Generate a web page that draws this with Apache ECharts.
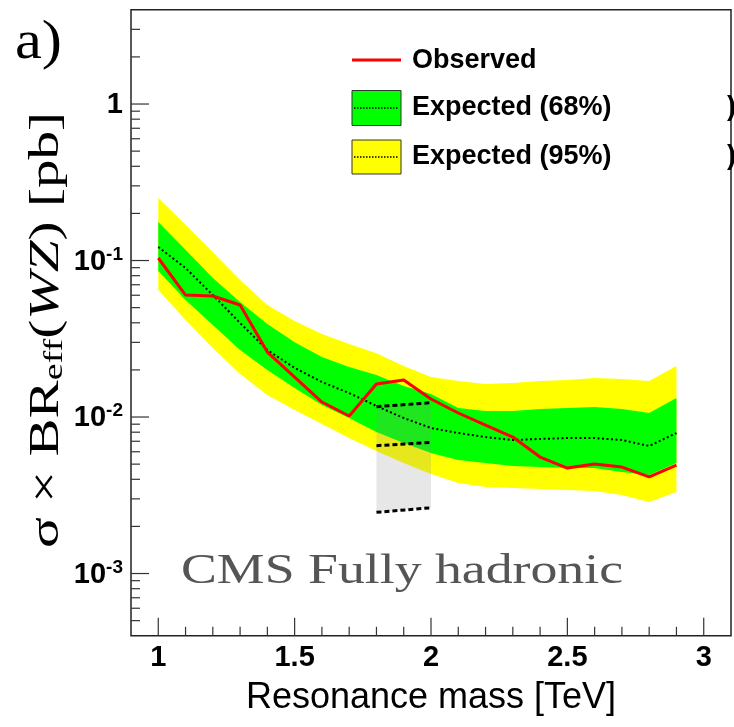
<!DOCTYPE html>
<html>
<head>
<meta charset="utf-8">
<script src="https://cdn.jsdelivr.net/npm/echarts@6/dist/echarts.min.js"></script>
<style>
html,body{margin:0;padding:0;background:#fff;}
#chart{width:734px;height:727px;}
</style>
</head>
<body>
<div id="chart"></div>
<script>
// ---- data ----
const masses      = [1.0, 1.1, 1.2, 1.3, 1.4, 1.5, 1.6, 1.7, 1.8, 1.9, 2.0, 2.1, 2.2, 2.3, 2.4, 2.5, 2.6, 2.7, 2.8, 2.9];
const observed    = [0.1038, 0.0602, 0.0593, 0.0520, 0.0260, 0.0180, 0.01247, 0.01015, 0.01625, 0.01724, 0.01303, 0.01061, 0.00889, 0.00745, 0.00555, 0.00472, 0.00501, 0.00479, 0.00414, 0.00493];
const expected    = [0.122, 0.0896, 0.0602, 0.0399, 0.0268, 0.0206, 0.01674, 0.01423, 0.01176, 0.00985, 0.00851, 0.00790, 0.00745, 0.00713, 0.00724, 0.00734, 0.00734, 0.00713, 0.00653, 0.00790];
const band68High  = [0.176, 0.117, 0.0773, 0.0543, 0.0393, 0.0301, 0.0242, 0.0209, 0.01855, 0.01578, 0.01403, 0.01142, 0.01092, 0.01092, 0.01125, 0.01142, 0.01158, 0.01125, 0.01061, 0.01322];
const band68Low   = [0.0857, 0.0559, 0.0387, 0.0268, 0.0200, 0.01532, 0.01193, 0.00985, 0.00802, 0.00682, 0.00589, 0.00531, 0.00508, 0.00486, 0.00479, 0.00472, 0.00472, 0.00445, 0.00426, 0.00508];
const band95High  = [0.251, 0.169, 0.113, 0.0751, 0.0520, 0.0411, 0.0339, 0.0293, 0.0256, 0.0212, 0.0180, 0.0170, 0.01625, 0.0165, 0.0170, 0.01724, 0.01775, 0.01749, 0.0170, 0.0212];
const band95Low   = [0.0648, 0.0417, 0.0276, 0.0188, 0.01382, 0.01108, 0.00902, 0.00734, 0.00606, 0.00508, 0.00432, 0.00379, 0.00357, 0.00352, 0.00347, 0.00342, 0.00337, 0.00317, 0.00286, 0.00332];

// shaded box with dashed lines (1.8 - 2.0 TeV)
const boxMass     = [1.8, 2.0];
const boxUpper    = [0.01164, 0.01234];
const boxMiddle   = [0.00656, 0.00689];
const boxLower    = [0.00246, 0.00263];

// axes
const xRange = [0.9, 3.1];
const yRange = [4e-4, 4];
const xTickLabels = ['1', '1.5', '2', '2.5', '3'];
const yTickLabels = ['10-3', '10-2', '10-1', '1'];

const legendLabels = ['Observed', 'Expected (68%)', 'Expected (95%)'];

// ---- chart ----
const chart = echarts.init(document.getElementById('chart'), null, {renderer: 'canvas'});

function bandSeries(name, hi, lo, color, z) {
  return {
    name: name, type: 'custom', z: z, silent: true,
    data: masses.map((m, i) => [m, hi[i]]),
    renderItem: function (params, api) {
      if (params.dataIndex !== 0) return null;
      const pts = [];
      for (let i = 0; i < masses.length; i++) pts.push(api.coord([masses[i], hi[i]]));
      for (let i = masses.length - 1; i >= 0; i--) pts.push(api.coord([masses[i], lo[i]]));
      return {type: 'polygon', shape: {points: pts}, style: {fill: color, stroke: null}};
    }
  };
}

const boxSeries = {
  type: 'custom', z: 3, silent: true,
  data: boxMass.map((m, i) => [m, boxUpper[i]]),
  renderItem: function (params, api) {
    if (params.dataIndex !== 0) return null;
    const pts = [
      api.coord([boxMass[0], boxUpper[0]]), api.coord([boxMass[1], boxUpper[1]]),
      api.coord([boxMass[1], boxLower[1]]), api.coord([boxMass[0], boxLower[0]])
    ];
    return {type: 'polygon', shape: {points: pts}, style: {fill: 'rgba(140,140,140,0.21)', stroke: null}};
  }
};

function dashedLine(vals) {
  return {
    type: 'line', z: 4, silent: true, symbol: 'none',
    data: boxMass.map((m, i) => [m, vals[i]]),
    lineStyle: {color: '#000', width: 3, type: [5, 3]}
  };
}

const tickSeries = {
  type: 'custom', z: 10, silent: true,
  data: [[1, 1]],
  renderItem: function (params, api) {
    const children = [];
    const stroke = {stroke: '#333', lineWidth: 1.2};
    // x ticks
    for (let k = 10; k <= 30; k++) {
      const v = k / 10;
      const p = api.coord([v, yRange[0]]);
      const len = (k % 5 === 0) ? 18 : 9;
      children.push({type: 'line', shape: {x1: p[0], y1: p[1], x2: p[0], y2: p[1] - len}, style: stroke});
    }
    // y ticks (log decades and minor 2..9)
    for (let e = -4; e <= 0; e++) {
      for (let m = 1; m <= 9; m++) {
        const v = m * Math.pow(10, e);
        if (v <= yRange[0] * 1.001 || v >= yRange[1] * 0.999) continue;
        const p = api.coord([xRange[0], v]);
        const len = (m === 1) ? 18 : 9;
        children.push({type: 'line', shape: {x1: p[0], y1: p[1], x2: p[0] + len, y2: p[1]}, style: stroke});
      }
    }
    return {type: 'group', children: children};
  }
};

const sans = 'Liberation Sans, Arial, Helvetica, sans-serif';
const serif = 'Liberation Serif, Times New Roman, serif';

const option = {
  animation: false,
  backgroundColor: '#fff',
  grid: {left: 131, right: -2.4, top: 9.8, bottom: 91.2, show: true, borderColor: '#222', borderWidth: 1.5, backgroundColor: 'transparent'},
  xAxis: {
    type: 'value', min: xRange[0], max: xRange[1], splitNumber: 4,
    axisLine: {show: false}, axisTick: {show: false}, splitLine: {show: false},
    axisLabel: {
      margin: 8, color: '#000', fontFamily: sans, fontWeight: 'bold', fontSize: 29,
      formatter: function (v) {
        const idx = xTickLabels.findIndex(t => Math.abs(parseFloat(t) - v) < 1e-6);
        return idx >= 0 ? xTickLabels[idx] : '';
      }
    },
    name: 'Resonance mass [TeV]', nameLocation: 'middle', nameGap: 44,
    nameTextStyle: {fontFamily: sans, fontSize: 36, color: '#000'}
  },
  yAxis: {
    type: 'log', logBase: 10, min: yRange[0], max: yRange[1],
    axisLine: {show: false}, axisTick: {show: false}, splitLine: {show: false}, minorTick: {show: false},
    axisLabel: {
      margin: 8, color: '#000',
      formatter: function (v) {
        const lg = Math.log10(v);
        const e = Math.round(lg);
        if (Math.abs(lg - e) > 1e-4) return '';
        const lab = yTickLabels.find(t => (t === '1' ? 0 : parseInt(t.slice(2), 10)) === e);
        if (!lab) return '';
        if (lab === '1') return '{b|1}';
        return '{b|10}{s|' + lab.slice(2) + '}';
      },
      rich: {
        b: {fontFamily: sans, fontWeight: 'bold', fontSize: 29, color: '#000', lineHeight: 31, verticalAlign: 'bottom'},
        s: {fontFamily: sans, fontWeight: 'bold', fontSize: 19, color: '#000', lineHeight: 19, verticalAlign: 'top'}
      }
    }
  },
  graphic: [
    {type: 'text', x: 15, y: 44, scaleX: 1.1, style: {text: 'a)', font: '55px ' + serif, fill: '#000', textVerticalAlign: 'middle', verticalAlign: 'middle'}},
    {type: 'text', x: 47, y: 330, rotation: Math.PI / 2, scaleX: 1.36,
     style: {
       text: '{r|σ × BR}{sub|eff}{r|(}{i|WZ}{r|) [pb]}',
       textAlign: 'center', align: 'center', textVerticalAlign: 'middle', verticalAlign: 'middle',
       rich: {
         r: {fontFamily: serif, fontSize: 42, fill: '#000', lineHeight: 44},
         i: {fontFamily: serif, fontSize: 42, fontStyle: 'italic', fill: '#000', lineHeight: 44},
         sub: {fontFamily: serif, fontSize: 28, fill: '#000', lineHeight: 28, verticalAlign: 'bottom'}
       }
     }},
    {type: 'text', x: 181, y: 572, scaleX: 1.28, z: 20,
     style: {text: 'CMS Fully hadronic', font: '42px ' + serif, fill: '#555', textVerticalAlign: 'middle', verticalAlign: 'middle'}},
    // legend
    {type: 'line', shape: {x1: 352, y1: 60, x2: 401, y2: 60}, style: {stroke: '#ff0000', lineWidth: 3}},
    {type: 'rect', shape: {x: 352, y: 90.5, width: 49, height: 35}, style: {fill: '#00ff00', stroke: '#333', lineWidth: 1}},
    {type: 'line', shape: {x1: 354, y1: 108, x2: 399, y2: 108}, style: {stroke: '#000', lineWidth: 1.5, lineDash: [1.5, 1.5]}},
    {type: 'rect', shape: {x: 352, y: 140, width: 49, height: 34}, style: {fill: '#ffff00', stroke: '#333', lineWidth: 1}},
    {type: 'line', shape: {x1: 354, y1: 157, x2: 399, y2: 157}, style: {stroke: '#000', lineWidth: 1.5, lineDash: [1.5, 1.5]}},
    {type: 'text', x: 412, y: 61, style: {text: legendLabels[0], font: 'bold 27px ' + sans, fill: '#000', textVerticalAlign: 'middle', verticalAlign: 'middle'}},
    {type: 'text', x: 412, y: 108, style: {text: legendLabels[1], font: 'bold 27px ' + sans, fill: '#000', textVerticalAlign: 'middle', verticalAlign: 'middle'}},
    {type: 'text', x: 412, y: 157, style: {text: legendLabels[2], font: 'bold 27px ' + sans, fill: '#000', textVerticalAlign: 'middle', verticalAlign: 'middle'}},
    {type: 'text', x: 727, y: 108, style: {text: ')', font: 'bold 27px ' + sans, fill: '#000', textVerticalAlign: 'middle', verticalAlign: 'middle'}},
    {type: 'text', x: 727, y: 157, style: {text: ')', font: 'bold 27px ' + sans, fill: '#000', textVerticalAlign: 'middle', verticalAlign: 'middle'}}
  ],
  series: [
    bandSeries('Expected (95%)', band95High, band95Low, '#ffff00', 1),
    bandSeries('Expected (68%)', band68High, band68Low, '#00ff00', 2),
    boxSeries,
    dashedLine(boxUpper),
    dashedLine(boxMiddle),
    dashedLine(boxLower),
    {
      name: 'Expected', type: 'line', z: 5, silent: true, symbol: 'none',
      data: masses.map((m, i) => [m, expected[i]]),
      lineStyle: {color: '#000', width: 2, type: [2, 2.5]}
    },
    {
      name: 'Observed', type: 'line', z: 6, silent: true, symbol: 'none',
      data: masses.map((m, i) => [m, observed[i]]),
      lineStyle: {color: '#ff0000', width: 3}
    },
    tickSeries
  ]
};
chart.setOption(option);
</script>
</body>
</html>
